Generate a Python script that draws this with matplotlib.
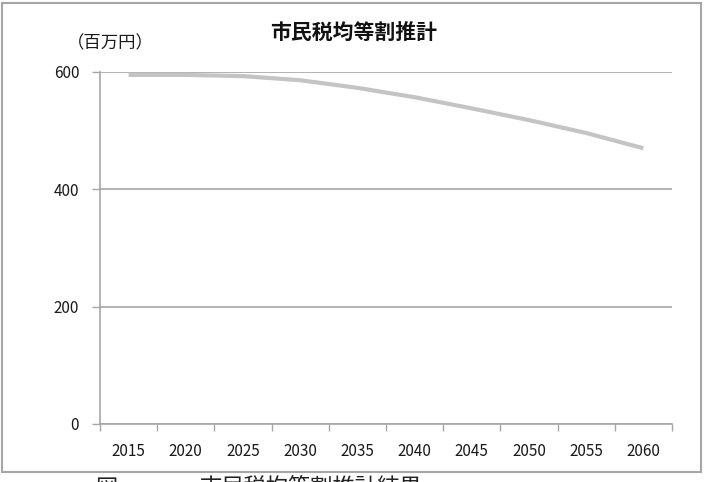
import matplotlib.pyplot as plt
import matplotlib.patches as patches
import numpy as np

plt.rcParams['font.family'] = ['Noto Sans CJK JP', 'DejaVu Sans']

years = ['2015', '2020', '2025', '2030', '2035', '2040', '2045', '2050', '2055', '2060']
values = [595, 595, 593, 586, 573, 557, 538, 518, 496, 470]
yticks = [0, 200, 400, 600]

fig = plt.figure(figsize=(7.11, 4.82), dpi=100)
ax = fig.add_axes([100/711, 1-424/482, 572/711, 352/482])

x = np.arange(len(years))
ax.plot(x, values, color='#c4c4c4', lw=3, solid_capstyle='butt', zorder=3)

ax.set_xlim(-0.5, len(years) - 0.5)
ax.set_ylim(0, 600)
ax.set_yticks(yticks)
ax.set_yticklabels([str(v) for v in yticks], fontsize=11, color='#1a1a1a')
ax.yaxis.grid(True, color='#a6a6a6', lw=1.2)
ax.set_axisbelow(True)

# category axis: tick marks between categories, labels centered
ax.set_xticks(np.arange(-0.5, len(years), 1.0))
ax.set_xticklabels([])
ax.set_xticks(x, minor=True)
ax.set_xticklabels(years, minor=True, fontsize=11, color='#1a1a1a')
ax.tick_params(axis='x', which='major', length=5, color='#a6a6a6', width=1)
ax.tick_params(axis='x', which='minor', length=0, pad=14)
ax.tick_params(axis='y', length=6, color='#a6a6a6', width=1, pad=9)

for s in ['top', 'right']:
    ax.spines[s].set_visible(False)
for s in ['left', 'bottom']:
    ax.spines[s].set_color('#a6a6a6')
    ax.spines[s].set_linewidth(1.2)

fig.text(354/711, 1-32/482, '市民税均等割推計', ha='center', va='center',
         fontsize=15, fontweight='bold', color='#111111')
fig.text(110/711, 1-43/482, '（百万円）', ha='center', va='center',
         fontsize=12.5, color='#1a1a1a')

# outer chart frame
fig.add_artist(patches.Rectangle((2/711, 1-472/482), 699/711, 469/482,
                                 transform=fig.transFigure, fill=False,
                                 edgecolor='#a6a6a6', lw=1.5))

# caption, cut off at the bottom edge as in the source
fig.text(95/711, 1-477/482, '図', ha='left', va='top', fontsize=16, color='#222222')
fig.text(200/711, 1-477/482, '市民税均等割推計結果', ha='left', va='top',
         fontsize=16, color='#222222')

fig.savefig('out.png', dpi=100)
